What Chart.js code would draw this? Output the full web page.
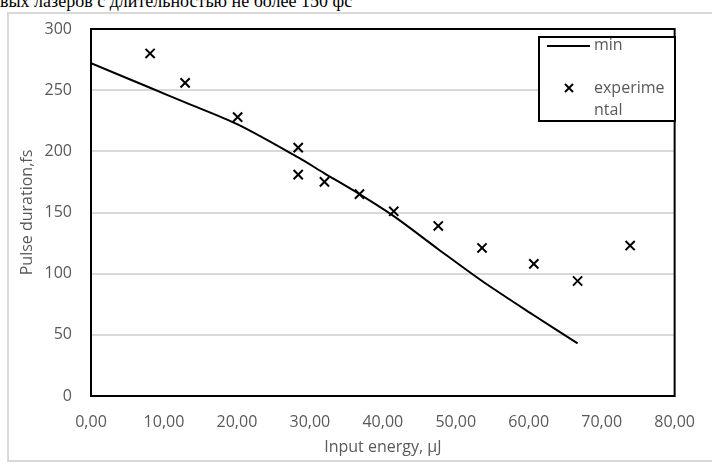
<!DOCTYPE html>
<html>
<head>
<meta charset="utf-8">
<script src="https://cdn.jsdelivr.net/npm/chart.js@4/dist/chart.umd.min.js"></script>
<style>
  html, body { margin: 0; padding: 0; background: #fff; }
  body { width: 712px; height: 465px; position: relative; overflow: hidden; }
  #caption {
    position: absolute; left: 0; top: -7.6px;
    font: 18px/18px "Liberation Serif", "Times New Roman", serif;
    color: #000; white-space: nowrap;
  }
  #frame {
    position: absolute; left: 7px; top: 12px; width: 720px; height: 450px;
    border: 2px solid #d9d9d9; box-sizing: border-box;
  }
  #wrap { position: absolute; left: 0; top: 0; width: 712px; height: 465px; }
</style>
</head>
<body>
<div id="caption">вых лазеров с длительностью не более 150 фс</div>
<div id="frame"></div>
<div id="wrap"><canvas id="grafica"></canvas></div>
<script>
// Energía de entrada (µJ) y duración del pulso (fs)
const energiaExp = [8.1, 12.9, 20.1, 28.4, 28.4, 32.0, 36.8, 41.5, 47.6, 53.6, 60.7, 66.7, 73.9];
const duracionExp = [280, 256, 228, 203, 181, 175, 165, 151, 139, 121, 108, 94, 123];

// Curva "min"
const energiaMin = [0, 8.1, 12.9, 20.1, 28.4, 32.0, 36.8, 41.5, 47.6, 53.6, 60.7, 66.7];
const duracionMin = [272, 252, 240, 222, 195, 182, 165, 147, 120, 94, 66, 43];

const ticksX = [0, 10, 20, 30, 40, 50, 60, 70, 80];
const ticksY = [0, 50, 100, 150, 200, 250, 300];

const gris = '#595959';
const fuente = '"Open Sans", "Liberation Sans", sans-serif';

function formatoComa(v) {
  return v.toFixed(2).replace('.', ',');
}

// Marco negro del área de trazado
const marcoPlot = {
  id: 'marcoPlot',
  beforeDatasetsDraw(chart) {
    const { ctx, chartArea: a } = chart;
    ctx.save();
    ctx.strokeStyle = '#000';
    ctx.lineWidth = 2;
    ctx.strokeRect(a.left, a.top, a.right - a.left, a.bottom - a.top);
    ctx.restore();
  }
};

// Leyenda dibujada a mano (el texto "experimental" va partido en dos líneas)
const leyenda = {
  id: 'leyenda',
  afterDraw(chart) {
    const { ctx } = chart;
    const x = 539, y = 37, w = 136, h = 84;
    ctx.save();
    ctx.fillStyle = '#fff';
    ctx.fillRect(x, y, w, h);
    ctx.strokeStyle = '#000';
    ctx.lineWidth = 2;
    ctx.strokeRect(x, y, w, h);

    ctx.beginPath();
    ctx.moveTo(547, 46);
    ctx.lineTo(590, 46);
    ctx.stroke();

    ctx.beginPath();
    ctx.moveTo(565, 84); ctx.lineTo(573, 92);
    ctx.moveTo(573, 84); ctx.lineTo(565, 92);
    ctx.stroke();

    ctx.fillStyle = gris;
    ctx.font = '16px ' + fuente;
    ctx.textBaseline = 'middle';
    ctx.textAlign = 'left';
    ctx.fillText(chart.data.datasets[0].label, 594, 45);
    const partes = chart.data.datasets[1].label.split('|');
    ctx.fillText(partes[0], 594, 88);
    ctx.fillText(partes[1], 594, 110);
    ctx.restore();
  }
};

new Chart(document.getElementById('grafica'), {
  type: 'scatter',
  data: {
    datasets: [
      {
        label: 'min',
        type: 'line',
        data: energiaMin.map((x, i) => ({ x: x, y: duracionMin[i] })),
        borderColor: '#000',
        borderWidth: 2,
        pointRadius: 0,
        tension: 0.3,
        fill: false
      },
      {
        label: 'experime|ntal',
        data: energiaExp.map((x, i) => ({ x: x, y: duracionExp[i] })),
        pointStyle: 'crossRot',
        pointRadius: 6.5,
        borderColor: '#000',
        borderWidth: 2,
        backgroundColor: '#000'
      }
    ]
  },
  plugins: [marcoPlot, leyenda],
  options: {
    responsive: true,
    maintainAspectRatio: false,
    animation: false,
    layout: { padding: { left: 0, top: 29, right: 31, bottom: 0 } },
    plugins: {
      legend: { display: false },
      tooltip: { enabled: false }
    },
    scales: {
      x: {
        type: 'linear',
        min: 0,
        max: 80,
        afterFit: (s) => { s.height = 69; },
        afterBuildTicks: (s) => { s.ticks = ticksX.map(v => ({ value: v })); },
        grid: { display: false, drawTicks: false },
        border: { display: false },
        ticks: {
          padding: 17,
          color: gris,
          font: { family: fuente, size: 16 },
          callback: (v) => formatoComa(v)
        },
        title: {
          display: true,
          text: 'Input energy, µJ',
          color: gris,
          font: { family: fuente, size: 16 },
          padding: { top: 0, bottom: 8 }
        }
      },
      y: {
        type: 'linear',
        min: 0,
        max: 300,
        afterFit: (s) => { s.width = 91; },
        afterBuildTicks: (s) => { s.ticks = ticksY.map(v => ({ value: v })); },
        grid: { color: '#d9d9d9', lineWidth: 2, drawTicks: false },
        border: { display: false },
        ticks: {
          padding: 19,
          color: gris,
          font: { family: fuente, size: 16 }
        },
        title: {
          display: true,
          text: 'Pulse duration,fs',
          color: gris,
          font: { family: fuente, size: 16 },
          padding: { top: 18, bottom: 0 }
        }
      }
    }
  }
});
</script>
</body>
</html>
